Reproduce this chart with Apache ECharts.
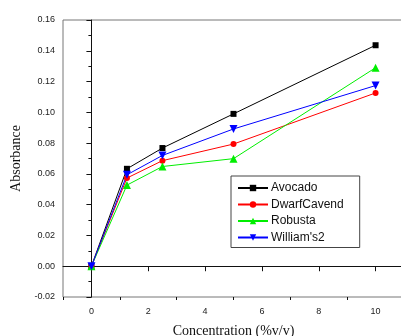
<!DOCTYPE html>
<html><head><meta charset="utf-8">
<script src="https://cdn.jsdelivr.net/npm/echarts@6/dist/echarts.min.js"></script>
<style>html,body{margin:0;padding:0;background:#fff}#c{width:401px;height:336px}</style>
</head><body><div id="c"></div>
<script>
var concentrations = [0, 1.25, 2.5, 5, 10];
var avocado = [0, 0.0633, 0.0768, 0.099, 0.1436];
var dwarfCavend = [0, 0.0573, 0.0686, 0.0794, 0.1126];
var robusta = [0, 0.0527, 0.0648, 0.0699, 0.129];
var williams2 = [0, 0.0594, 0.072, 0.0892, 0.1174];
var seriesNames = ['Avocado', 'DwarfCavend', 'Robusta', "William's2"];
var xMajorTicks = [0, 2, 4, 6, 8, 10];
var xMinorTicks = [-1, 1, 3, 5, 7, 9, 11];

function pairs(ys){ return concentrations.map(function(x,i){ return [x, ys[i]]; }); }

var chart = echarts.init(document.getElementById('c'), null, {renderer:'canvas'});
function mk(name, data, color, symbol, size, rot){
  return {name:name, type:'line', data:pairs(data), symbol:symbol, symbolSize:size, symbolRotate:rot||0,
    lineStyle:{color:color, width:1}, itemStyle:{color:color}, animation:false};
}
chart.setOption({
  animation:false,
  grid:{left:63, top:20, width:341, height:277, outerBoundsMode:'none', containLabel:false,
    show:true, borderColor:'#777', borderWidth:1},
  legend:{
    orient:'vertical', left:231, top:176, padding:[6,16,4,6], itemGap:4.5,
    itemWidth:30, itemHeight:8, borderColor:'#444', borderWidth:1, backgroundColor:'#fff',
    textStyle:{fontFamily:'Liberation Sans, Arial', fontSize:12, color:'#111', padding:[0,0,0,-2]},
    data:seriesNames
  },
  xAxis:[{
    type:'value', min:-1, max:11,
    name:'Concentration (%v/v)', nameLocation:'middle', nameGap:27,
    nameTextStyle:{fontFamily:'Liberation Serif, Times New Roman', fontSize:14, color:'#111'},
    axisLine:{lineStyle:{color:'#111', width:1}},
    axisTick:{show:true, length:5, inside:false, customValues:xMajorTicks, lineStyle:{color:'#111'}},
    axisLabel:{customValues:xMajorTicks, margin:10, fontFamily:'Liberation Sans, Arial', fontSize:9, color:'#222'},
    splitLine:{show:false}
  },{
    type:'value', min:-1, max:11, position:'bottom',
    axisLine:{show:false},
    axisTick:{show:true, length:3, customValues:xMinorTicks, lineStyle:{color:'#111'}},
    axisLabel:{show:false}, splitLine:{show:false}
  }],
  yAxis:{
    type:'value', min:-0.02, max:0.16, interval:0.02,
    name:'Absorbance', nameLocation:'middle', nameGap:37,
    nameTextStyle:{fontFamily:'Liberation Serif, Times New Roman', fontSize:14, color:'#111'},
    axisLine:{show:true, lineStyle:{color:'#111', width:1}},
    axisTick:{show:true, length:5, lineStyle:{color:'#111'}},
    minorTick:{show:true, splitNumber:2, length:3, lineStyle:{color:'#111'}},
    axisLabel:{margin:8, fontFamily:'Liberation Sans, Arial', fontSize:9, color:'#222',
      formatter:function(v){ return v.toFixed(2); }},
    splitLine:{show:false}
  },
  series:[
    mk(seriesNames[0], avocado, '#000000', 'rect', 6),
    mk(seriesNames[1], dwarfCavend, '#ff0000', 'circle', 6),
    mk(seriesNames[2], robusta, '#00ee00', 'triangle', 8),
    mk(seriesNames[3], williams2, '#0000ff', 'triangle', 8, 180)
  ]
});
</script></body></html>
